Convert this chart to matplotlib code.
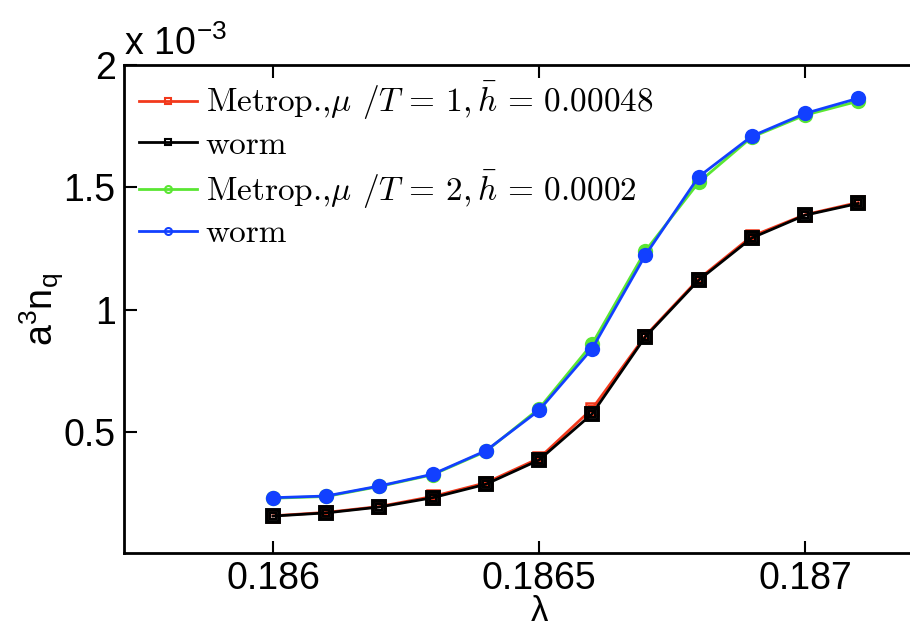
import matplotlib
matplotlib.use("Agg")
import matplotlib.pyplot as plt
from matplotlib.ticker import FixedLocator, FuncFormatter

plt.rcParams["font.family"] = ["Liberation Sans", "DejaVu Sans"]
plt.rcParams["mathtext.fontset"] = "cm"

# lambda values
lam = [0.1860, 0.1861, 0.1862, 0.1863, 0.1864, 0.1865,
       0.1866, 0.1867, 0.1868, 0.1869, 0.1870, 0.1871]

# a^3 n_q (units of 1e-3)
metrop_mu1 = [0.157, 0.171, 0.195, 0.236, 0.292, 0.392,
              0.595, 0.893, 1.125, 1.300, 1.388, 1.438]
worm_mu1 = [0.156, 0.169, 0.193, 0.231, 0.286, 0.385,
            0.574, 0.889, 1.120, 1.293, 1.386, 1.434]
metrop_mu2 = [0.229, 0.236, 0.277, 0.325, 0.420, 0.595,
              0.860, 1.240, 1.520, 1.705, 1.795, 1.852]
worm_mu2 = [0.231, 0.238, 0.279, 0.327, 0.423, 0.588,
            0.841, 1.223, 1.543, 1.709, 1.802, 1.864]

labels = [r"Metrop.,$\mu$ $/T\,=\,1,\bar{h}\,=\,0.00048$",
          "worm",
          r"Metrop.,$\mu$ $/T\,=\,2,\bar{h}\,=\,0.0002$",
          "worm"]

fig = plt.figure(figsize=(9.1, 6.27), dpi=100)
ax = fig.add_axes([124 / 910, 74 / 627, 830 / 910, 488 / 627])

scale = 1e-3
series = [
    (metrop_mu1, "#f2391c", "s", 1.8),
    (worm_mu1, "black", "s", 2.8),
    (metrop_mu2, "#5ae632", "o", 1.8),
    (worm_mu2, "#1240ff", "o", 2.0),
]
for (vals, col, mk, mew), lab in zip(series, labels):
    y = [v * scale for v in vals]
    # line + small open marker (used by the legend)
    ax.plot(lam, y, color=col, lw=2, marker=mk, ms=5, mfc="none",
            mew=1.5, label=lab)
    # bigger marker on top, like the error bar blobs in the original
    if mk == "s":
        ax.plot(lam, y, ls="none", color=col, marker="s", ms=9,
                mfc="none", mew=mew)
    else:
        ax.plot(lam, y, ls="none", color=col, marker="o", ms=11, mew=0)

ax.set_xlim(0.18572, 0.18728)
ax.set_ylim(0.005e-3, 2e-3)
ax.xaxis.set_major_locator(FixedLocator([0.186, 0.1865, 0.187]))
ax.xaxis.set_major_formatter(FuncFormatter(lambda v, p: f"{v:g}"))
ax.yaxis.set_major_locator(FixedLocator([0.5e-3, 1e-3, 1.5e-3, 2e-3]))
ax.yaxis.set_major_formatter(FuncFormatter(lambda v, p: f"{v * 1e3:g}"))

ax.tick_params(direction="in", length=9, width=1.5, labelsize=27,
               top=True, right=True, pad=6)
for s in ax.spines.values():
    s.set_linewidth(2)

ax.set_xlabel("λ", fontsize=25, labelpad=-2)
ax.set_ylabel(r"$\mathregular{a^3n_q}$", fontsize=27)
ax.yaxis.set_label_coords(-0.07, 0.5)
ax.text(0, 1.005, r"x 10$^{\mathregular{-3}}$", transform=ax.transAxes,
        fontsize=27, ha="left", va="bottom")

leg = ax.legend(loc="upper left", bbox_to_anchor=(0, 1), frameon=False,
                prop={"family": "cmr10", "size": 24},
                handlelength=1.75, handletextpad=0.25,
                labelspacing=0.25, borderaxespad=0, borderpad=0.45)

fig.savefig("out.png", dpi=100)
